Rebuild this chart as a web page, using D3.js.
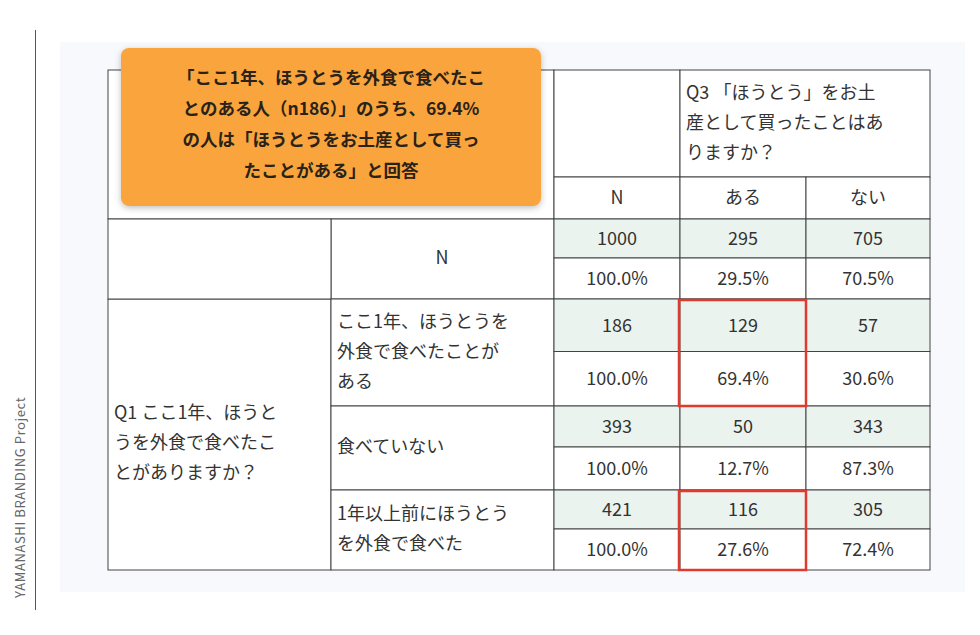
<!DOCTYPE html>
<html><head><meta charset="utf-8">
<script src="https://cdn.jsdelivr.net/npm/d3@7"></script>
<style>body{margin:0;background:#fff}svg{display:block}</style>
</head><body><div id="chart"></div>
<script>
// data
const columns = ['N', 'ある', 'ない'];
const groups = ['N', 'ここ1年、ほうとうを外食で食べたことがある', '食べていない', '1年以上前にほうとうを外食で食べた'];
const groupLabels = [['N'], ['ここ1年、ほうとうを', '外食で食べたことが', 'ある'], ['食べていない'], ['1年以上前にほうとう', 'を外食で食べた']];
const counts = [[1000, 295, 705], [186, 129, 57], [393, 50, 343], [421, 116, 305]];
const pcts = [['100.0%', '29.5%', '70.5%'], ['100.0%', '69.4%', '30.6%'], ['100.0%', '12.7%', '87.3%'], ['100.0%', '27.6%', '72.4%']];
const rowWeights = [80, 107, 84, 80];
const highlighted = [1, 3]; // group index, column ある
const q3Lines = ['Q3 「ほうとう」をお土', '産として買ったことはあ', 'りますか？'];
const q1Lines = ['Q1 ここ1年、ほうと', 'うを外食で食べたこ', 'とがありますか？'];
const calloutLines = ['「ここ1年、ほうとうを外食で食べたこ', 'とのある人（n186）」のうち、69.4%', 'の人は「ほうとうをお土産として買っ', 'たことがある」と回答'];

const W = 980, H = 635;
const svg = d3.select('#chart').append('svg').attr('width', W).attr('height', H);
const font = "'Noto Sans CJK JP', 'Noto Sans', sans-serif";

// frame decorations
svg.append('line').attr('x1', 35.5).attr('x2', 35.5).attr('y1', 30).attr('y2', 610).attr('stroke', '#555');
svg.append('text').attr('transform', 'translate(25,598) rotate(-90)').attr('font-family', font)
  .attr('font-size', 13).attr('fill', '#666').attr('letter-spacing', 0.6).text('YAMANASHI  BRANDING Project');
svg.append('rect').attr('x', 60).attr('y', 42).attr('width', 905).attr('height', 550).attr('fill', '#f8f9fd');

// scales
const x = d3.scaleOrdinal().domain(['g', 's', ...columns]).range([108, 331, 554, 680, 806]);
const colW = d3.scaleOrdinal().domain(['g', 's', ...columns]).range([223, 223, 126, 126, 124]);
const cum = [0];
rowWeights.forEach(w => cum.push(cum[cum.length - 1] + w));
const y = d3.scaleLinear().domain([0, cum[cum.length - 1]]).range([219, 570]);
const tableTop = 70, hdrY = 177;

const g = svg.append('g');
const cell = (x0, y0, w, h, fill) => g.append('rect').attr('x', x0).attr('y', y0).attr('width', w).attr('height', h)
  .attr('fill', fill || '#fff').attr('stroke', '#444').attr('stroke-width', 1);
const txt = (lines, cx, cy, anchor, size) => {
  const t = g.append('text').attr('font-family', font).attr('font-size', size || 18).attr('fill', '#333')
    .attr('text-anchor', anchor || 'middle');
  lines.forEach((l, i) => t.append('tspan').attr('x', cx).attr('y', cy + (i - (lines.length - 1) / 2) * 30).attr('dy', '0.35em').text(l));
};

// header
cell(108, tableTop, 446, hdrY - tableTop + 42);
cell(554, tableTop, 126, hdrY - tableTop);
cell(680, tableTop, 250, hdrY - tableTop);
txt(q3Lines, 686, tableTop + 53, 'start');
columns.forEach(c => { cell(x(c), hdrY, colW(c), 42); txt([c], x(c) + colW(c) / 2, hdrY + 21); });

// body
cell(108, y(cum[1]), 223, y(cum[4]) - y(cum[1]));
txt(q1Lines, 114, (y(cum[1]) + y(cum[4])) / 2 + 8, 'start');
groups.forEach((gr, i) => {
  const y0 = y(cum[i]), y1 = y(cum[i + 1]), ym = (y0 + y1) / 2 - 1;
  cell(331, y0, 223, y1 - y0);
  if (i === 0) { cell(108, y0, 223, y1 - y0); txt(groupLabels[0], 442, ym); }
  else txt(groupLabels[i], 337, ym, 'start');
  columns.forEach((c, j) => {
    cell(x(c), y0, colW(c), ym - y0, '#ebf3ef');
    cell(x(c), ym, colW(c), y1 - ym);
    txt([String(counts[i][j])], x(c) + colW(c) / 2, (y0 + ym) / 2);
    txt([pcts[i][j]], x(c) + colW(c) / 2, (ym + y1) / 2);
  });
});
highlighted.forEach(i => {
  g.append('rect').attr('x', x('ある') - 1).attr('y', y(cum[i]) + 1).attr('width', colW('ある') + 1)
    .attr('height', y(cum[i + 1]) - y(cum[i]) - 1).attr('fill', 'none').attr('stroke', '#e03a2f').attr('stroke-width', 2.5);
});

// callout
const defs = svg.append('defs');
const f = defs.append('filter').attr('id', 'sh').attr('x', '-10%').attr('y', '-10%').attr('width', '120%').attr('height', '130%');
f.append('feDropShadow').attr('dx', 0).attr('dy', 2).attr('stdDeviation', 3).attr('flood-color', '#000').attr('flood-opacity', 0.25);
svg.append('rect').attr('x', 121).attr('y', 48).attr('width', 420).attr('height', 158).attr('rx', 8)
  .attr('fill', '#f9a43c').attr('filter', 'url(#sh)');
const ct = svg.append('text').attr('font-family', font).attr('font-size', 17.5).attr('font-weight', 700)
  .attr('fill', '#2a2218').attr('text-anchor', 'middle');
calloutLines.forEach((l, i) => ct.append('tspan').attr('x', 331).attr('y', 84 + i * 31).text(l));
</script></body></html>
